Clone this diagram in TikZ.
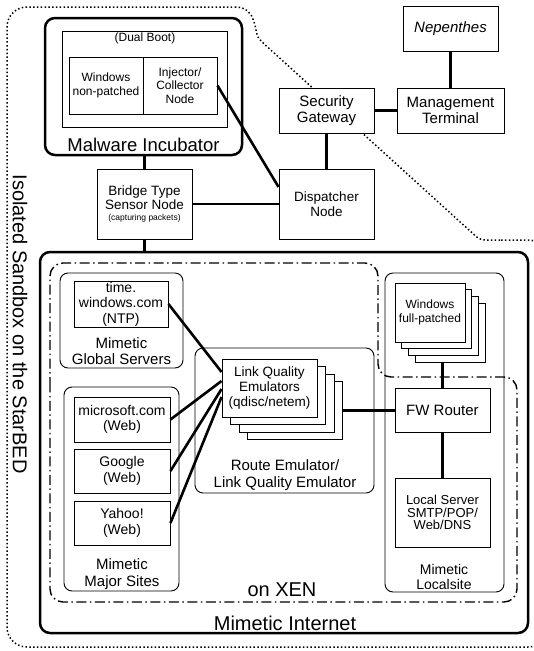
\documentclass[tikz,border=0pt]{standalone}
\usepackage{fontspec}
\setmainfont{Liberation Sans}
\begin{document}
\begin{tikzpicture}[x=1pt,y=-1pt,
  box/.style={draw, line width=0.9pt, fill=white, inner sep=0pt, align=center},
  grp/.style={draw, line width=0.9pt, rounded corners=8pt, inner sep=0pt},
  boldgrp/.style={draw, line width=2.5pt, rounded corners=10pt, inner sep=0pt},
  conn/.style={line width=2.6pt},
  sandbox/.style={line width=1.5pt, dash pattern=on 1.5pt off 2.3pt},
  xenline/.style={line width=1.4pt, dash pattern=on 10pt off 3.5pt on 1.5pt off 3.5pt},
  lbl/.style={inner sep=0pt, align=center},
  f12/.style={font=\fontsize{12}{13.5}\selectfont},
  f13/.style={font=\fontsize{13.5}{15}\selectfont},
  f14/.style={font=\fontsize{14}{15.5}\selectfont},
  f15/.style={font=\fontsize{15}{16.5}\selectfont},
  f18/.style={font=\fontsize{18.5}{20}\selectfont},
  f20/.style={font=\fontsize{20}{22}\selectfont}]
\useasboundingbox (0,0) rectangle (534,651);

% isolated sandbox boundary
\draw[sandbox, rounded corners=20pt] (236,7) -- (7,7) -- (7,647) -- (548,647) -- (548,240) -- (500,240);
\draw[sandbox, rounded corners=5pt] (500,240) -- (480,240) -- (262,42) .. controls (254,33) and (258,8) .. (236,7);
\node[lbl, f20, rotate=-90] (sbl) at (20,324) {Isolated Sandbox on the StarBED};

% Mimetic internet
\node[boldgrp, minimum width=488pt, minimum height=381pt] (inet) at (284,442.5) {};
\node[lbl, f20] (inetl) at (285,623) {Mimetic Internet};

% on XEN region
\draw[xenline, rounded corners=13pt] (50,400) -- (50,263) -- (378,263) -- (378,377) -- (517,377) -- (517,602) -- (50,602) -- cycle;
\node[lbl, f20] (xenl) at (282,590) {on XEN};

% groups
\node[grp, minimum width=123pt, minimum height=95pt] (global) at (121.5,320.5) {};
\node[lbl, f15] (globall) at (121.5,351) {Mimetic\\Global Servers};
\node[grp, minimum width=115pt, minimum height=204pt] (major) at (121.5,489) {};
\node[lbl, f15] (majorl) at (122,574) {Mimetic\\Major Sites};
\node[grp, minimum width=179pt, minimum height=145pt] (route) at (284.5,420.5) {};
\node[lbl, f15] (routel) at (285,475) {Route Emulator/\\Link Quality Emulator};
\node[grp, minimum width=119pt, minimum height=319pt] (lsite) at (444.5,432.5) {};
\node[lbl, f14] (lsitel) at (444,577) {Mimetic\\Localsite};

% site boxes
\node[box, f14, minimum width=94pt, minimum height=46pt] (ntp) at (121,304) {time.\\windows.com\\(NTP)};
\node[box, f14, minimum width=96pt, minimum height=45pt] (ms) at (122,419.5) {microsoft.com\\(Web)};
\node[box, f14, minimum width=96pt, minimum height=44pt] (goog) at (122,471) {Google\\(Web)};
\node[box, f14, minimum width=96pt, minimum height=44pt] (yahoo) at (122,523) {Yahoo!\\(Web)};

% link quality emulators stack
\foreach \k in {3,2,1}
  \node[box, minimum width=95pt, minimum height=58pt] (lqe\k) at (269.5+8.5*\k,388+7.5*\k) {};
\node[box, f13, minimum width=95pt, minimum height=58pt] (lqe) at (269.5,388) {Link Quality\\Emulators\\(qdisc/netem)};

% windows full-patched stack
\foreach \k in {3,2,1}
  \node[box, minimum width=70pt, minimum height=59pt] (wfp\k) at (430+6.7*\k,312.5+6.7*\k) {};
\node[box, f12, minimum width=70pt, minimum height=59pt] (wfp) at (430,312.5) {Windows\\full-patched};

\node[box, f15, minimum width=95pt, minimum height=44pt] (fw) at (442.5,410) {FW Router};
\node[box, minimum width=95pt, minimum height=69pt, font=\fontsize{13}{12.5}\selectfont] (ls) at (442.5,512.5) {Local Server\\SMTP/POP/\\Web/DNS};

% malware incubator
\node[boldgrp, minimum width=197pt, minimum height=137pt] (incub) at (143.5,86.5) {};
\node[lbl, f18] (incubl) at (143.5,145) {Malware Incubator};
\node[box, minimum width=165pt, minimum height=96pt] (dual) at (144.5,79) {};
\node[lbl, f12] (duall) at (145,38.5) {(Dual Boot)};
\node[box, f12, minimum width=74pt, minimum height=57pt] (win) at (106,85.5) {Windows\\non-patched};
\node[box, f12, minimum width=74pt, minimum height=57pt] (inj) at (180,85.5) {Injector/\\Collector\\Node};

% top nodes
\node[box, minimum width=95pt, minimum height=70pt] (bridge) at (144.5,204)
  {\fontsize{13.5}{15}\selectfont Bridge Type\\\fontsize{13.5}{14}\selectfont Sensor Node\\[-1pt]\fontsize{8.5}{9}\selectfont (capturing packets)};
\node[box, f13, minimum width=95pt, minimum height=70pt] (disp) at (326.5,204) {Dispatcher\\Node};
\node[box, f15, minimum width=95pt, minimum height=45pt] (sgw) at (326.5,110.5) {Security\\Gateway};
\node[box, f15, minimum width=107pt, minimum height=45pt] (mgmt) at (450.5,110.5) {Management\\Terminal};
\node[box, f15, minimum width=95pt, minimum height=45pt] (nep) at (450.5,28.5) {\itshape Nepenthes};

% connectors
\draw[conn] (nep.south) -- (mgmt.north);
\draw[conn] (sgw.east) -- (mgmt.west);
\draw[conn] (sgw.south) -- (disp.north);
\draw[conn] (inj.east) -- ([yshift=17pt]disp.west);
\draw[conn] (bridge.east) -- (disp.west);
\draw[conn] (incub.south -| bridge.north) -- (bridge.north);
\draw[conn] (bridge.south) -- (bridge.south |- inet.north);
\draw[conn] (ntp.east) -- ([yshift=16pt]lqe.west);
\draw[conn] (ms.east) -- ([yshift=7pt]lqe.west);
\draw[conn] (goog.east) -- ([yshift=-1pt]lqe.west);
\draw[conn] (yahoo.east) -- ([yshift=-9pt]lqe.west);
\draw[conn] (lqe3.east) -- (lqe3.east -| fw.west);
\draw[conn] (fw.north) -- (fw.north |- wfp3.south);
\draw[conn] (fw.south) -- (ls.north);
\end{tikzpicture}
\end{document}
